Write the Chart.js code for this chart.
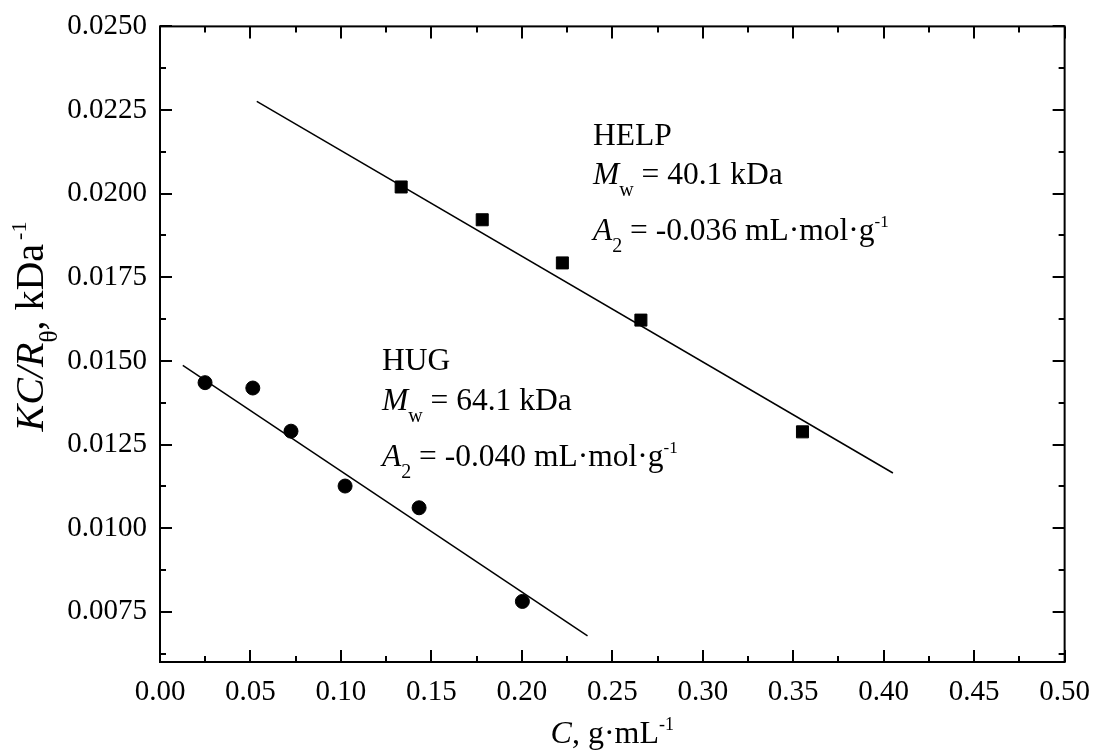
<!DOCTYPE html>
<html>
<head>
<meta charset="utf-8">
<script src="https://cdn.jsdelivr.net/npm/chart.js@4.4.1/dist/chart.umd.min.js"></script>
<style>
  html, body { margin: 0; padding: 0; background: #fff; overflow: hidden; }
  #wrap { width: 1103px; height: 757px; margin-top: -4px; position: relative; }
</style>
</head>
<body>
<div id="wrap"><canvas id="kcChart"></canvas></div>
<script>
// HELP sample (squares) and its fitted line
const helpC = [0.1333, 0.1781, 0.2224, 0.2658, 0.3551];
const helpKC = [0.02020, 0.01922, 0.01793, 0.01622, 0.01288];
const helpFitC = [0.0535, 0.4051];
const helpFitKC = [0.02276, 0.01165];

// HUG sample (circles) and its fitted line
const hugC = [0.0249, 0.0513, 0.0724, 0.1023, 0.1432, 0.2003];
const hugKC = [0.01435, 0.01419, 0.01290, 0.01126, 0.01061, 0.00781];
const hugFitC = [0.0126, 0.2363];
const hugFitKC = [0.01487, 0.00678];

// axis ticks
const xTicks = [0.00, 0.05, 0.10, 0.15, 0.20, 0.25, 0.30, 0.35, 0.40, 0.45, 0.50];
const yTicks = [0.0075, 0.0100, 0.0125, 0.0150, 0.0175, 0.0200, 0.0225, 0.0250];
const xMinor = [0.025, 0.075, 0.125, 0.175, 0.225, 0.275, 0.325, 0.375, 0.425, 0.475];
const yMinor = [0.00625, 0.00875, 0.01125, 0.01375, 0.01625, 0.01875, 0.02125, 0.02375];

const FONT = '"Liberation Serif", "Times New Roman", serif';

function toPoints(xs, ys) {
    return xs.map((v, i) => ({ x: v, y: ys[i] }));
}

function partFont(p, size) {
    let fs = size;
    if (p.s === 'sub') fs = Math.round(size * 0.62);
    if (p.s === 'sup') fs = Math.round(size * 0.55);
    return (p.i ? 'italic ' : '') + fs + 'px ' + FONT;
}

function richWidth(ctx, parts, size) {
    let w = 0;
    parts.forEach(p => {
        ctx.font = partFont(p, size);
        w += ctx.measureText(p.t).width + (p.gap || 0);
    });
    return w;
}

// draws text with italic / sub / superscript parts
function drawRich(ctx, x, y, parts, size, angle) {
    ctx.save();
    ctx.translate(x, y);
    if (angle) ctx.rotate(angle);
    ctx.fillStyle = '#000';
    ctx.textBaseline = 'alphabetic';
    ctx.textAlign = 'left';
    let cx = 0;
    parts.forEach(p => {
        let dy = 0;
        if (p.s === 'sub') dy = size * 0.36;
        if (p.s === 'sup') dy = -size * 0.42;
        cx += p.gap || 0;
        ctx.font = partFont(p, size);
        ctx.fillText(p.t, cx, dy);
        cx += ctx.measureText(p.t).width;
    });
    ctx.restore();
}

const helpNote = [
    [{ t: 'HELP' }],
    [{ t: 'M', i: true }, { t: 'w', s: 'sub' }, { t: ' = 40.1 kDa' }],
    [{ t: 'A', i: true }, { t: '2', s: 'sub' }, { t: ' = -0.036 mL·mol·g' }, { t: '-1', s: 'sup' }]
];
const hugNote = [
    [{ t: 'HUG' }],
    [{ t: 'M', i: true }, { t: 'w', s: 'sub' }, { t: ' = 64.1 kDa' }],
    [{ t: 'A', i: true }, { t: '2', s: 'sub' }, { t: ' = -0.040 mL·mol·g' }, { t: '-1', s: 'sup' }]
];
const xTitle = [{ t: 'C', i: true }, { t: ', g·mL' }, { t: '-1', s: 'sup' }];
const yTitle = [{ t: 'KC/R', i: true }, { t: 'θ', s: 'sub' }, { t: ', kDa' }, { t: '-1', s: 'sup', gap: 4 }];

const frameAndText = {
    id: 'frameAndText',
    afterDatasetsDraw(chart) {
        const { ctx, chartArea: a, scales: { x, y } } = chart;
        ctx.save();
        ctx.strokeStyle = '#000';
        ctx.lineWidth = 2;
        ctx.strokeRect(a.left, a.top, a.right - a.left, a.bottom - a.top);

        // inward ticks on all four sides
        ctx.beginPath();
        const tickX = (vals, len) => vals.forEach(v => {
            const px = Math.round(x.getPixelForValue(v));
            ctx.moveTo(px, a.bottom); ctx.lineTo(px, a.bottom - len);
            ctx.moveTo(px, a.top); ctx.lineTo(px, a.top + len);
        });
        const tickY = (vals, len) => vals.forEach(v => {
            const py = Math.round(y.getPixelForValue(v));
            ctx.moveTo(a.left, py); ctx.lineTo(a.left + len, py);
            ctx.moveTo(a.right, py); ctx.lineTo(a.right - len, py);
        });
        tickX(xTicks, 12); tickX(xMinor, 6);
        tickY(yTicks, 12); tickY(yMinor, 6);
        ctx.stroke();

        // annotations, placed relative to the plot box
        const helpBase = [119, 158, 214];
        helpNote.forEach((line, i) => drawRich(ctx, a.left + 433, a.top + helpBase[i], line, 31.5));
        const hugBase = [344, 384, 440];
        hugNote.forEach((line, i) => drawRich(ctx, a.left + 222, a.top + hugBase[i], line, 31.5));

        // axis titles
        const xw = richWidth(ctx, xTitle, 32);
        drawRich(ctx, (a.left + a.right) / 2 - xw / 2, a.bottom + 81, xTitle, 32);
        drawRich(ctx, a.left - 117, a.top + 405, yTitle, 40, -Math.PI / 2);
        ctx.restore();
    }
};

const ctx = document.getElementById('kcChart');
new Chart(ctx, {
    type: 'scatter',
    data: {
        datasets: [
            {
                label: 'HELP',
                data: toPoints(helpC, helpKC),
                pointStyle: 'rect',
                pointRadius: 8.5,
                pointBackgroundColor: '#000',
                pointBorderColor: '#000',
                pointBorderWidth: 1
            },
            {
                label: 'HELP fit',
                data: toPoints(helpFitC, helpFitKC),
                showLine: true,
                pointRadius: 0,
                borderColor: '#000',
                borderWidth: 1.5
            },
            {
                label: 'HUG',
                data: toPoints(hugC, hugKC),
                pointStyle: 'circle',
                pointRadius: 7,
                pointBackgroundColor: '#000',
                pointBorderColor: '#000',
                pointBorderWidth: 1
            },
            {
                label: 'HUG fit',
                data: toPoints(hugFitC, hugFitKC),
                showLine: true,
                pointRadius: 0,
                borderColor: '#000',
                borderWidth: 1.5
            }
        ]
    },
    options: {
        responsive: true,
        maintainAspectRatio: false,
        animation: false,
        layout: { padding: { top: 22, right: 24, left: 0, bottom: 0 } },
        plugins: {
            legend: { display: false },
            tooltip: { enabled: false }
        },
        scales: {
            x: {
                type: 'linear',
                min: 0,
                max: 0.5,
                afterBuildTicks: s => { s.ticks = xTicks.map(v => ({ value: v })); },
                afterFit: s => { s.height = 91; },
                grid: { display: false, drawTicks: false },
                border: { display: false },
                ticks: {
                    color: '#000',
                    font: { family: FONT, size: 29 },
                    padding: 13,
                    maxRotation: 0,
                    autoSkip: false,
                    callback: v => Number(v).toFixed(2)
                }
            },
            y: {
                type: 'linear',
                min: 0.006,
                max: 0.025,
                afterBuildTicks: s => { s.ticks = yTicks.map(v => ({ value: v })); },
                afterFit: s => { s.width = 160; },
                grid: { display: false, drawTicks: false },
                border: { display: false },
                ticks: {
                    color: '#000',
                    font: { family: FONT, size: 29 },
                    padding: 13,
                    autoSkip: false,
                    callback: v => Number(v).toFixed(4)
                }
            }
        }
    },
    plugins: [frameAndText]
});
</script>
</body>
</html>
